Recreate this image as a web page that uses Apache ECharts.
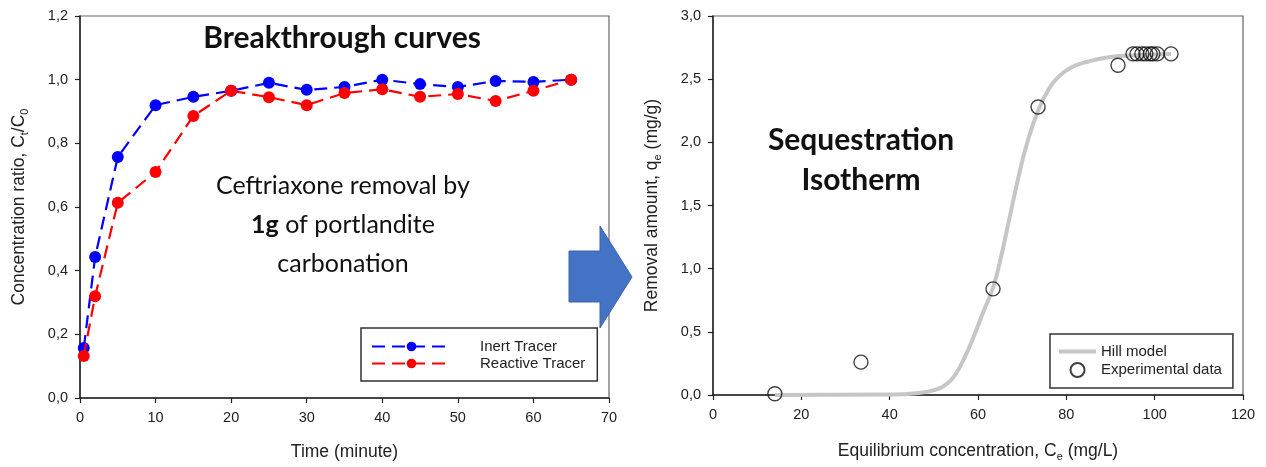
<!DOCTYPE html>
<html>
<head>
<meta charset="utf-8">
<script src="https://cdn.jsdelivr.net/npm/echarts@6/dist/echarts.min.js"></script>
<style>
html,body{margin:0;padding:0;background:#fff;}
#chart{width:1266px;height:467px;}
</style>
</head>
<body>
<div id="chart"></div>
<script>
// ---- Breakthrough curves (left) ----
const timeMin = [0.5, 2, 5, 10, 15, 20, 25, 30, 35, 40, 45, 50, 55, 60, 65];
const inertTracer = [0.157, 0.443, 0.757, 0.92, 0.946, 0.965, 0.99, 0.968, 0.977, 1.0, 0.986, 0.977, 0.996, 0.993, 1.0];
const reactiveTracer = [0.132, 0.32, 0.613, 0.71, 0.886, 0.965, 0.945, 0.92, 0.958, 0.97, 0.946, 0.955, 0.933, 0.965, 1.0];
const leftYTickLabels = ['0,0', '0,2', '0,4', '0,6', '0,8', '1,0', '1,2'];
const leftXTickLabels = ['0', '10', '20', '30', '40', '50', '60', '70'];

// ---- Sequestration isotherm (right) ----
const expCe = [14, 33.5, 63.4, 73.6, 91.7, 95.1, 96.0, 97.1, 98.0, 99.0, 99.6, 100.6, 103.7];
const expQe = [0.01, 0.26, 0.84, 2.28, 2.61, 2.70, 2.70, 2.70, 2.70, 2.70, 2.70, 2.70, 2.70];
const hillCe = [14, 40, 46, 50, 53, 55, 57, 59, 61, 63.4, 65, 67, 69, 71, 73.6, 76, 78, 81, 85, 90, 96, 103.7];
const hillQe = [0, 0.004, 0.014, 0.038, 0.09, 0.17, 0.30, 0.46, 0.64, 0.85, 1.06, 1.38, 1.70, 1.98, 2.25, 2.42, 2.51, 2.59, 2.64, 2.675, 2.69, 2.70];
const rightYTickLabels = ['0,0', '0,5', '1,0', '1,5', '2,0', '2,5', '3,0'];
const rightXTickLabels = ['0', '20', '40', '60', '80', '100', '120'];

const AX = 'Liberation Sans, Arial, sans-serif';

function pairs(xs, ys) { return xs.map((x, i) => [x, ys[i]]); }

const axisCommon = {
  axisLine: { show: true, onZero: false, lineStyle: { color: '#222', width: 1.5 } },
  axisTick: { show: true, inside: false, length: 5, lineStyle: { color: '#222', width: 1.2 } },
  splitLine: { show: false },
  nameLocation: 'middle',
  nameTextStyle: { fontFamily: AX, fontSize: 17.5, color: '#222' }
};
const subRich = {
  n: { fontFamily: AX, fontSize: 17.5, color: '#222', lineHeight: 22, verticalAlign: 'middle' },
  s: { fontFamily: AX, fontSize: 11, color: '#222', lineHeight: 11, verticalAlign: 'bottom' }
};

const chart = echarts.init(document.getElementById('chart'));
chart.setOption({
  backgroundColor: '#fff',
  animation: false,
  grid: [
    { left: 80, right: 657, top: 16, bottom: 69, show: true, borderColor: '#666', borderWidth: 1.2, backgroundColor: 'transparent' },
    { left: 713, right: 23, top: 16, bottom: 69, show: true, borderColor: '#666', borderWidth: 1.2, backgroundColor: 'transparent' }
  ],
  xAxis: [
    Object.assign({}, axisCommon, {
      type: 'value', gridIndex: 0, min: 0, max: 70, interval: 10,
      name: 'Time (minute)', nameGap: 45,
      axisLabel: { margin: 12, fontFamily: AX, fontSize: 14.5, color: '#222',
        formatter: v => leftXTickLabels[Math.round(v / 10)] }
    }),
    Object.assign({}, axisCommon, {
      type: 'value', gridIndex: 1, min: 0, max: 120, interval: 20,
      name: '{n|Equilibrium concentration, C}{s|e}{n| (mg/L)}', nameGap: 45,
      nameTextStyle: { fontFamily: AX, fontSize: 17.5, color: '#222', rich: subRich },
      axisLabel: { margin: 12, fontFamily: AX, fontSize: 14.5, color: '#222',
        formatter: v => rightXTickLabels[Math.round(v / 20)] }
    })
  ],
  yAxis: [
    Object.assign({}, axisCommon, {
      type: 'value', gridIndex: 0, min: 0, max: 1.2, interval: 0.2,
      name: '{n|Concentration ratio, C}{s|t}{n|/C}{s|0}', nameGap: 50,
      nameTextStyle: { fontFamily: AX, fontSize: 17.5, color: '#222', rich: subRich },
      axisLabel: { margin: 12, fontFamily: AX, fontSize: 14.5, color: '#222',
        formatter: v => leftYTickLabels[Math.round(v / 0.2)] }
    }),
    Object.assign({}, axisCommon, {
      type: 'value', gridIndex: 1, min: 0, max: 3, interval: 0.5,
      name: '{n|Removal amount, q}{s|e}{n| (mg/g)}', nameGap: 50,
      nameTextStyle: { fontFamily: AX, fontSize: 17.5, color: '#222', rich: subRich },
      axisLabel: { margin: 12, fontFamily: AX, fontSize: 14.5, color: '#222',
        formatter: v => rightYTickLabels[Math.round(v / 0.5)] }
    })
  ],
  legend: [
    {
      data: ['Inert Tracer', 'Reactive Tracer'],
      orient: 'vertical', left: 361, top: 328,
      itemWidth: 79, itemHeight: 12, itemGap: 2,
      padding: [11, 12, 10, 10],
      borderColor: '#333', borderWidth: 1.5,
      textStyle: { fontFamily: AX, fontSize: 15, color: '#222', padding: [0, 0, 0, 24] }
    },
    {
      data: [
        { name: 'Hill model', icon: 'path://M0,0 L37,0 L37,4 L0,4 Z' },
        { name: 'Experimental data' }
      ],
      orient: 'vertical', left: 1050, top: 334,
      itemWidth: 37, itemHeight: 14, itemGap: 3,
      padding: [10, 11, 10, 9],
      borderColor: '#333', borderWidth: 1.5,
      textStyle: { fontFamily: AX, fontSize: 15, color: '#222' }
    }
  ],
  series: [
    {
      name: 'Inert Tracer', type: 'line', xAxisIndex: 0, yAxisIndex: 0,
      data: pairs(timeMin, inertTracer),
      symbol: 'circle', symbolSize: 12,
      lineStyle: { color: '#0000ff', width: 2.2, type: [13, 7] },
      itemStyle: { color: '#0000ff' }, z: 3
    },
    {
      name: 'Reactive Tracer', type: 'line', xAxisIndex: 0, yAxisIndex: 0,
      data: pairs(timeMin, reactiveTracer),
      symbol: 'circle', symbolSize: 12,
      lineStyle: { color: '#ff0000', width: 2.2, type: [13, 7] },
      itemStyle: { color: '#ff0000' }, z: 4
    },
    {
      name: 'Hill model', type: 'line', xAxisIndex: 1, yAxisIndex: 1,
      data: pairs(hillCe, hillQe),
      showSymbol: false, symbol: 'none', smooth: 0.5,
      lineStyle: { color: '#c6c6c6', width: 4 },
      itemStyle: { color: '#c6c6c6' }, z: 2
    },
    {
      name: 'Experimental data', type: 'scatter', xAxisIndex: 1, yAxisIndex: 1,
      data: pairs(expCe, expQe),
      symbol: 'circle', symbolSize: 14,
      itemStyle: { color: 'rgba(255,255,255,0)', borderColor: '#111', borderWidth: 1.4 }, z: 5
    }
  ],
  graphic: [
    { type: 'text', z: 10, position: [342, 38],
      style: { text: 'Breakthrough curves', x: 0, y: 0, align: 'center', verticalAlign: 'middle',
        font: 'bold 30px Lato, sans-serif', fill: '#111' } },
    { type: 'text', z: 10, position: [343, 225],
      style: { text: 'Ceftriaxone removal by\n{b|1g} of portlandite\ncarbonation',
        x: 0, y: 0, align: 'center', verticalAlign: 'middle',
        font: '25px Lato, sans-serif', fill: '#111', lineHeight: 39,
        rich: { b: { font: 'bold 25px Lato, sans-serif', fill: '#111', lineHeight: 39 } } } },
    { type: 'text', z: 10, position: [861, 160],
      style: { text: 'Sequestration\nIsotherm', x: 0, y: 0, align: 'center', verticalAlign: 'middle',
        font: 'bold 30px Lato, sans-serif', fill: '#111', lineHeight: 40 } },
    { type: 'polygon', z: 20,
      shape: { points: [[569, 251], [600, 251], [600, 226], [632, 277], [600, 328], [600, 302], [569, 302]] },
      style: { fill: '#4472C4', stroke: '#3b65b0', lineWidth: 1 } }
  ]
});
</script>
</body>
</html>
